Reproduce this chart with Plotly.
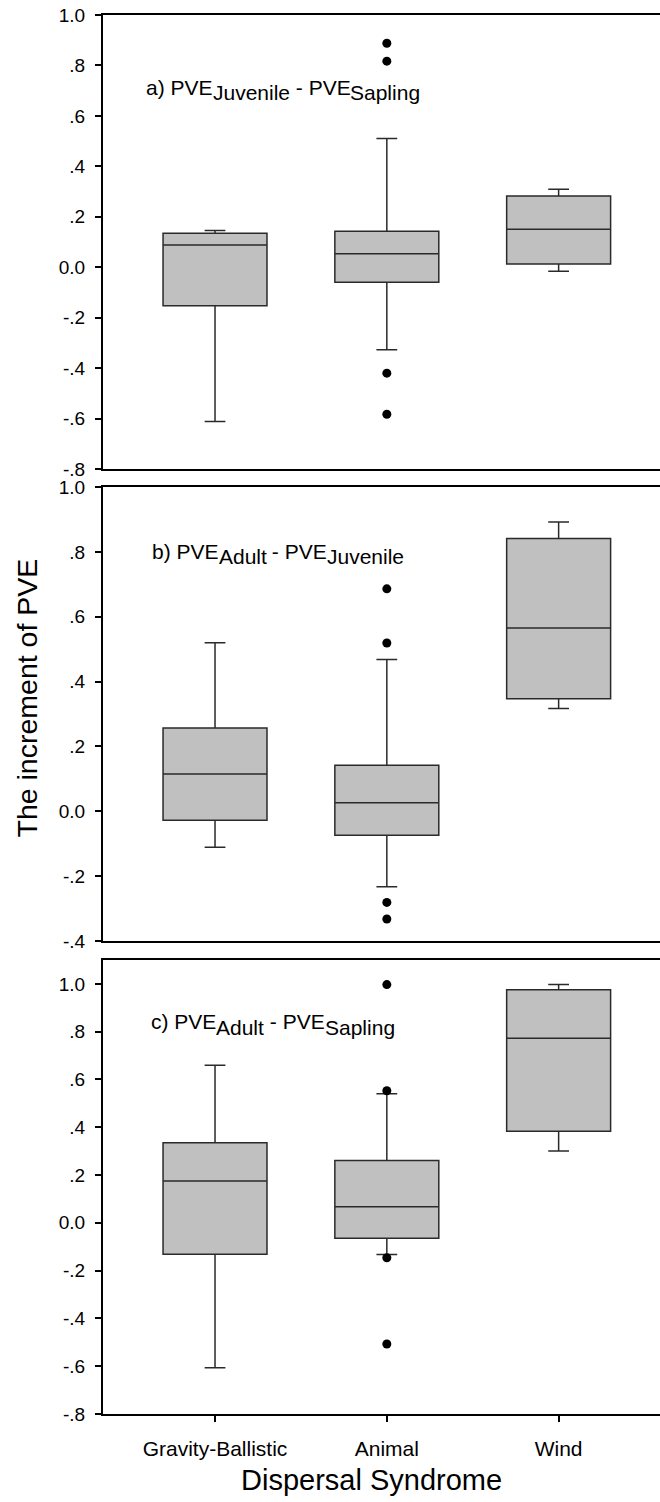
import plotly.graph_objects as go

# ---------------- data ----------------
categories = ["Gravity-Ballistic", "Animal", "Wind"]

# panel a) PVE_Juvenile - PVE_Sapling
a_lower = [-0.612, -0.327, -0.016]
a_q1 = [-0.153, -0.060, 0.013]
a_median = [0.088, 0.053, 0.151]
a_q3 = [0.135, 0.143, 0.282]
a_upper = [0.146, 0.510, 0.309]
a_out_x = ["Animal", "Animal", "Animal", "Animal"]
a_out_y = [0.888, 0.817, -0.420, -0.583]

# panel b) PVE_Adult - PVE_Juvenile
b_lower = [-0.111, -0.233, 0.317]
b_q1 = [-0.028, -0.074, 0.347]
b_median = [0.115, 0.026, 0.565]
b_q3 = [0.257, 0.142, 0.841]
b_upper = [0.520, 0.468, 0.892]
b_out_x = ["Animal", "Animal", "Animal", "Animal"]
b_out_y = [0.686, 0.519, -0.281, -0.332]

# panel c) PVE_Adult - PVE_Sapling
c_lower = [-0.606, -0.132, 0.301]
c_q1 = [-0.131, -0.064, 0.383]
c_median = [0.175, 0.067, 0.773]
c_q3 = [0.335, 0.261, 0.975]
c_upper = [0.660, 0.540, 0.997]
c_out_x = ["Animal", "Animal", "Animal", "Animal"]
c_out_y = [0.997, 0.553, -0.146, -0.507]

tick_a_vals = [-0.8, -0.6, -0.4, -0.2, 0.0, 0.2, 0.4, 0.6, 0.8, 1.0]
tick_a_text = ["-.8", "-.6", "-.4", "-.2", "0.0", ".2", ".4", ".6", ".8", "1.0"]
tick_b_vals = [-0.4, -0.2, 0.0, 0.2, 0.4, 0.6, 0.8, 1.0]
tick_b_text = ["-.4", "-.2", "0.0", ".2", ".4", ".6", ".8", "1.0"]

# panel labels: (prefix, subscript 1, subscript 2)
panel_labels = [
    ("a) PVE", "Juvenile", "Sapling"),
    ("b) PVE", "Adult", "Juvenile"),
    ("c) PVE", "Adult", "Sapling"),
]
middle_text = " - PVE"

FONT = "Liberation Sans, Arial, sans-serif"
W, H = 660, 1502
ML = 103

# Arial / Liberation Sans advance widths (per em) for label layout
ARIAL_W = {'a': .556, 'b': .556, 'c': .5, 'd': .556, 'e': .556, 'g': .556, 'i': .222,
           'l': .222, 'n': .556, 'p': .556, 't': .278, 'u': .556, 'v': .5, ')': .333,
           ' ': .278, '-': .333, 'P': .667, 'V': .667, 'E': .667, 'J': .5, 'S': .667,
           'A': .667}

def text_w(s, size):
    return sum(ARIAL_W.get(ch, .556) for ch in s) * size

fig = go.Figure()

panels = [
    (a_lower, a_q1, a_median, a_q3, a_upper, a_out_x, a_out_y, "x", "y"),
    (b_lower, b_q1, b_median, b_q3, b_upper, b_out_x, b_out_y, "x2", "y2"),
    (c_lower, c_q1, c_median, c_q3, c_upper, c_out_x, c_out_y, "x3", "y3"),
]
for lo, q1, med, q3, up, ox, oy, xa, ya in panels:
    fig.add_trace(go.Box(
        x=categories, q1=q1, median=med, q3=q3, lowerfence=lo, upperfence=up,
        boxpoints=False, width=0.605, whiskerwidth=0.2,
        fillcolor="#c0c0c0", line=dict(color="#2a2a2a", width=1.5),
        xaxis=xa, yaxis=ya, showlegend=False, hoverinfo="skip",
    ))
    fig.add_trace(go.Scatter(
        x=ox, y=oy, mode="markers",
        marker=dict(color="black", size=9),
        xaxis=xa, yaxis=ya, showlegend=False, hoverinfo="skip",
    ))

def ydom(top_px, bot_px):
    return [1 - bot_px / H, 1 - top_px / H]

xr = [-0.652, 2.59]
common_x = dict(range=xr, showline=True, linecolor="black", linewidth=2, mirror=True,
                showgrid=False, zeroline=False, categoryorder="array",
                categoryarray=categories, automargin=False)
common_y = dict(showline=True, linecolor="black", linewidth=2, showgrid=False, zeroline=False,
                ticks="outside", ticklen=6, tickwidth=1.5, tickcolor="black", automargin=False,
                tickfont=dict(size=19, color="black", family=FONT), ticklabelstandoff=6)

fig.update_layout(
    width=W, height=H,
    margin=dict(l=ML, r=0, t=0, b=0, autoexpand=False),
    paper_bgcolor="white", plot_bgcolor="white",
    font=dict(family=FONT, color="black"),
    xaxis=dict(domain=[0, 1], anchor="y", showticklabels=False, ticks="", **common_x),
    xaxis2=dict(domain=[0, 1], anchor="y2", showticklabels=False, ticks="", **common_x),
    xaxis3=dict(domain=[0, 1], anchor="y3", ticks="outside", ticklen=6, tickwidth=1.5,
                tickcolor="black", tickfont=dict(size=21, color="black", family=FONT),
                ticklabelstandoff=9, **common_x),
    yaxis=dict(domain=ydom(15, 469), anchor="x", range=[-0.8, 1.0],
               tickvals=tick_a_vals, ticktext=tick_a_text, **common_y),
    yaxis2=dict(domain=ydom(487, 941), anchor="x2", range=[-0.4, 1.0],
                tickvals=tick_b_vals, ticktext=tick_b_text, **common_y),
    yaxis3=dict(domain=ydom(960, 1414), anchor="x3", range=[-0.8, 1.1],
                tickvals=tick_a_vals, ticktext=tick_a_text, **common_y),
)

# panel label placement in pixels: (left x, cap-centre y)
label_px = [(145, 88), (151, 552), (150, 1022)]
LS = 21      # label font size
SUB_DY = 5   # subscript drop in px

def paper_x(px):
    return (px - ML) / (W - ML)

def paper_y(py):
    return 1 - py / H

for (pre, s1, s2), (x0, yc) in zip(panel_labels, label_px):
    pieces = [(pre, 0), (s1, SUB_DY), (middle_text, 0), (s2, SUB_DY)]
    x = x0
    for txt, dy in pieces:
        fig.add_annotation(text=txt, x=paper_x(x), y=paper_y(yc + dy), xref="paper", yref="paper",
                           xanchor="left", yanchor="middle", showarrow=False,
                           borderpad=0, font=dict(size=LS, color="black", family=FONT))
        x += text_w(txt, LS)

fig.add_annotation(text="The increment of PVE", textangle=-90,
                   x=paper_x(26), y=paper_y(698.5), xref="paper", yref="paper",
                   xanchor="center", yanchor="middle", showarrow=False,
                   font=dict(size=28.5, color="black", family=FONT))
fig.add_annotation(text="Dispersal Syndrome",
                   x=paper_x(371), y=paper_y(1480), xref="paper", yref="paper",
                   xanchor="center", yanchor="middle", showarrow=False,
                   font=dict(size=29, color="black", family=FONT))

fig.write_html("out.html")
